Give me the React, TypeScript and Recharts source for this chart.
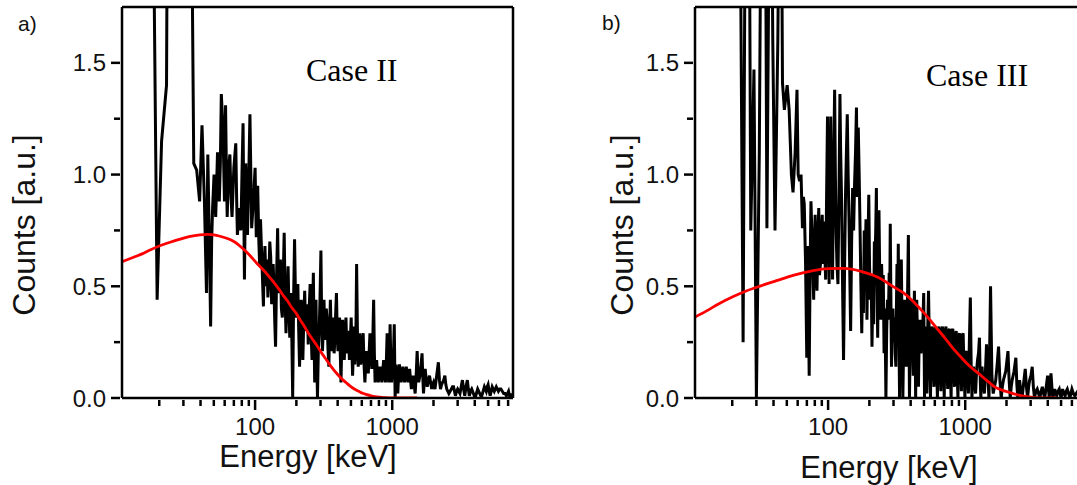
import { LineChart, Line, XAxis, YAxis, ReferenceLine } from 'recharts';

// energy [keV], counts [a.u.]
const spectrumA: [number, number][] = [
  [17.6, 3.0], [19.3, 0.44], [20.8, 1.15], [22.6, 1.4], [23.2, 3.0], [33.6, 3.0],
  [35.7, 1.05], [37.5, 1.02], [39.4, 0.88], [41.0, 1.22], [42.7, 0.88], [44.2, 0.47],
  [45.2, 1.09], [46.3, 0.73], [47.4, 0.32], [48.2, 0.7], [49.0, 0.85], [50.2, 1.0], [51.6, 0.81],
  [52.4, 0.95], [53.2, 1.1], [54.8, 0.88], [55.8, 1.05], [56.7, 1.36], [58.3, 1.21], [59.8, 0.88], [60.9, 1.31],
  [61.8, 1.0], [62.6, 0.81], [64.0, 1.03], [65.5, 1.09], [66.7, 0.9], [67.9, 0.81], [70.0, 1.03], [72.3, 1.14],
  [73.3, 0.9], [74.3, 0.73], [76.6, 0.85], [78.8, 0.75], [80.2, 1.0], [81.7, 1.23], [83.6, 0.53], [85.5, 1.05],
  [88.0, 0.73], [90.0, 1.0], [91.7, 1.27], [94.4, 0.76], [97.1, 0.88], [100, 1.03], [102, 0.72],
  [103, 0.81], [104.5, 0.95], [105, 0.88], [106.5, 0.7], [108, 0.59], [109.5, 0.8], [111, 0.69],
  [113, 0.55], [115, 0.41], [116.5, 0.6], [118, 0.68], [120, 0.5], [122, 0.62], [124, 0.45],
  [126, 0.54], [128, 0.7], [130, 0.63], [132, 0.42], [134, 0.47], [135.5, 0.6], [137, 0.51],
  [139, 0.35], [141, 0.23], [143.5, 0.55], [146, 0.76], [148, 0.5], [150, 0.47], [151.5, 0.58],
  [153, 0.62], [155.5, 0.4], [158, 0.36], [160.5, 0.55], [163, 0.74], [165.5, 0.45], [168, 0.29],
  [171, 0.45], [174, 0.59], [176.5, 0.4], [179, 0.27], [181, 0.38], [183, 0.47], [185.5, 0.25],
  [188, 0.0], [191, 0.45], [194, 0.71], [196.5, 0.5], [199, 0.36], [202, 0.42], [205, 0.51],
  [208, 0.3], [211, 0.14], [214, 0.35], [217, 0.44], [220, 0.3], [223, 0.17], [226.5, 0.35],
  [230, 0.48], [233.5, 0.3], [237, 0.36], [240.5, 0.42], [244, 0.24], [248, 0.4], [252, 0.51],
  [256, 0.3], [260, 0.17], [263, 0.4], [266, 0.56], [269, 0.3], [272, 0.07], [275, 0.3],
  [278, 0.44], [281.5, 0.2], [285, 0.0], [289, 0.2], [293, 0.29], [297.5, 0.45], [302, 0.66],
  [306, 0.35], [310, 0.21], [314, 0.3], [318, 0.44], [322, 0.3], [326, 0.26], [330.5, 0.4],
  [335, 0.35], [340, 0.22], [345, 0.14], [349.5, 0.3], [354, 0.44], [358.5, 0.3], [363, 0.21],
  [367.5, 0.3], [372, 0.36], [377, 0.2], [382, 0.26], [387, 0.38], [392, 0.47], [397, 0.3],
  [402, 0.21], [407.5, 0.3], [413, 0.36], [418, 0.2], [423, 0.07], [429, 0.25], [435, 0.35],
  [441, 0.25], [447, 0.17], [453.5, 0.28], [460, 0.36], [466.5, 0.2], [473, 0.29], [480, 0.3],
  [487, 0.17], [494.5, 0.25], [502, 0.36], [508, 0.22], [514, 0.1], [520.5, 0.2], [527, 0.32],
  [533.5, 0.15], [540, 0.21], [545, 0.35], [550, 0.6], [557.5, 0.3], [565, 0.14], [572.5, 0.2],
  [580, 0.29], [588.5, 0.15], [597, 0.17], [605.5, 0.25], [614, 0.29], [623, 0.15], [632, 0.07],
  [641, 0.15], [650, 0.21], [659.5, 0.15], [669, 0.11], [678.5, 0.2], [688, 0.29], [699, 0.2],
  [710, 0.13], [721, 0.25], [732, 0.44], [741, 0.2], [750, 0.07], [760, 0.12], [770, 0.17],
  [781, 0.1], [792, 0.07], [803.5, 0.12], [815, 0.14], [827.5, 0.1], [840, 0.07], [853, 0.12],
  [866, 0.17], [879, 0.1], [892, 0.07], [905, 0.15], [918, 0.29], [930, 0.15], [942, 0.07],
  [953.5, 0.15], [965, 0.33], [977.5, 0.15], [990, 0.07], [1001.5, 0.12], [1013, 0.17],
  [1024, 0.22], [1035, 0.33], [1050, 0.0], [1067, 0.15], [1083, 0.08], [1098, 0.02], [1113, 0.1],
  [1129, 0.15], [1145, 0.1], [1160, 0.07], [1178, 0.1], [1195, 0.14], [1212, 0.1], [1230, 0.07],
  [1248, 0.1], [1266, 0.14], [1285, 0.1], [1303, 0.07], [1322, 0.1], [1340, 0.13], [1360, 0.08],
  [1380, 0.04], [1400, 0.08], [1420, 0.1], [1445, 0.06], [1470, 0.02], [1495, 0.1], [1520, 0.21],
  [1540, 0.12], [1560, 0.07], [1580, 0.09], [1600, 0.11], [1625, 0.15], [1650, 0.2], [1670, 0.1],
  [1691, 0.02], [1715, 0.08], [1740, 0.13], [1770, 0.08], [1800, 0.05], [1835, 0.08], [1870, 0.1],
  [1905, 0.07], [1940, 0.04], [1970, 0.06], [2000, 0.07], [2050, 0.04], [2110, 0.1], [2170, 0.16],
  [2210, 0.08], [2250, 0.04], [2290, 0.06], [2330, 0.07], [2375, 0.08], [2420, 0.1], [2460, 0.06],
  [2500, 0.04], [2545, 0.03], [2590, 0.02], [2645, 0.03], [2700, 0.04], [2750, 0.05], [2800, 0.05],
  [2845, 0.03], [2890, 0.01], [2945, 0.03], [3000, 0.04], [3060, 0.03], [3120, 0.02], [3185, 0.05],
  [3250, 0.08], [3315, 0.04], [3380, 0.01], [3455, 0.05], [3530, 0.08], [3590, 0.04], [3650, 0.01],
  [3725, 0.03], [3800, 0.04], [3910, 0.02], [4020, 0.0], [4110, 0.02], [4200, 0.04], [4275, 0.03],
  [4350, 0.02], [4425, 0.01], [4500, 0.01], [4600, 0.03], [4700, 0.05], [4775, 0.04], [4850, 0.03],
  [4925, 0.05], [5000, 0.06], [5090, 0.03], [5180, 0.01], [5270, 0.03], [5360, 0.05], [5455, 0.04],
  [5550, 0.03], [5645, 0.04], [5740, 0.05], [5845, 0.04], [5950, 0.03], [6075, 0.04], [6200, 0.04],
  [6350, 0.03], [6500, 0.02], [6650, 0.02], [6800, 0.01], [6925, 0.02], [7050, 0.03], [7160, 0.01],
  [7270, 0.0], [7380, 0.01], [7500, 0.02],
];

const fitA: [number, number][] = [
  [10.7, 0.61], [13, 0.63], [15, 0.645], [17.5, 0.665], [20, 0.68], [24, 0.697],
  [28, 0.71], [33, 0.722], [39.7, 0.73], [45, 0.732], [50, 0.73], [55.5, 0.724], [62, 0.715],
  [69, 0.703], [75, 0.688], [81, 0.67], [87, 0.652], [92, 0.637], [99, 0.615], [106, 0.595],
  [114, 0.575], [122, 0.555], [131, 0.532], [140, 0.51], [150, 0.485], [160, 0.46],
  [172, 0.435], [185, 0.405], [199, 0.38], [213, 0.35], [229, 0.32], [245, 0.29], [263, 0.262],
  [282, 0.235], [303, 0.205], [325, 0.178], [348, 0.152], [372, 0.128], [400, 0.105],
  [430, 0.085], [462, 0.068], [494, 0.053], [530, 0.04], [570, 0.03], [610, 0.021],
  [654, 0.015], [700, 0.01], [750, 0.006], [800, 0.004], [860, 0.002], [930, 0.001],
  [1000, 0.0], [1200, 0.0], [1520, 0.0],
];

const spectrumB: [number, number][] = [
  [22.4, 3.0], [24.0, 0.25], [25.2, 3.0], [26.3, 3.0], [27.3, 0.75], [28.8, 1.47],
  [30.0, 0.0], [31.5, 1.1], [33.0, 3.0], [34.5, 3.0], [35.8, 0.76], [38.0, 3.0],
  [39.5, 1.6], [41.0, 0.75], [43.0, 1.6], [45.0, 3.0], [46.5, 1.41], [48.0, 1.29],
  [50.3, 1.4], [52.0, 1.29], [54.0, 1.0], [55.5, 0.92], [57.5, 1.1], [59.3, 1.38], [60.5, 1.0],
  [62.0, 0.97], [63.5, 1.0], [65.0, 0.76], [66.0, 0.9], [67.0, 0.87], [68.5, 0.6], [69.9, 0.18],
  [71.0, 0.68], [72.8, 0.1], [74.0, 0.6], [75.0, 0.88], [76.5, 0.7], [78.5, 0.44], [79.5, 0.7],
  [80.5, 0.82], [81.5, 0.6], [83.0, 0.48], [84.0, 0.7], [85.5, 0.85], [86.5, 0.55], [88.0, 0.6],
  [89.5, 0.75], [90.6, 0.82], [92.0, 0.6], [93.0, 0.79], [94.5, 0.65], [96.0, 0.53], [97.5, 0.9],
  [99.0, 1.26], [100.5, 0.8], [101.7, 0.51], [103.0, 0.9], [104.5, 1.26], [106.0, 0.8],
  [107.8, 0.53], [109.5, 1.0], [111.6, 1.38], [113.0, 1.0], [114.5, 0.74], [116.0, 0.6],
  [118.0, 0.51], [120.0, 0.9], [122.0, 1.36], [123.5, 1.1], [125.5, 0.88], [127.5, 0.5],
  [129.6, 0.17], [132.0, 0.6], [134.0, 0.91], [136.0, 1.1], [138.0, 1.27], [140.0, 1.0],
  [142.0, 0.81], [144.0, 0.55], [146.0, 0.3], [148.5, 0.7], [151.0, 0.94], [153.5, 0.75],
  [156.0, 0.96], [158.5, 1.1], [161.0, 1.3], [163.5, 0.9], [166.0, 1.21], [168.5, 1.0],
  [171.0, 0.76], [173.5, 0.5], [176.0, 0.29], [178.5, 0.55], [181.0, 0.38], [183.5, 0.75],
  [186.0, 0.59], [189.0, 0.8], [192.0, 0.35], [195.0, 0.65], [198.0, 0.91], [200.5, 0.6],
  [203.0, 0.44], [206.0, 0.55], [209.0, 0.23], [212.0, 0.5], [215.0, 0.33], [217.5, 0.7],
  [220.0, 0.62], [222.5, 0.75], [225.0, 0.94], [227.5, 0.5], [230.0, 0.27], [232.5, 0.6],
  [235.0, 0.84], [238.5, 0.5], [242.0, 0.35], [245.5, 0.6], [249.0, 0.44], [252.5, 0.55],
  [256.0, 0.2], [260.0, 0.4], [264.0, 0.0], [267.5, 0.3], [271.0, 0.44], [275.0, 0.35],
  [279.0, 0.56], [281.5, 0.4], [284.0, 0.78], [287.0, 0.45], [290.0, 0.14], [293.5, 0.35],
  [297.0, 0.4], [301.0, 0.25], [305.0, 0.36], [308.5, 0.2], [312.0, 0.14], [315.0, 0.4],
  [318.0, 0.6], [321.5, 0.35], [325.0, 0.69], [328.5, 0.3], [332.0, 0.0], [337.0, 0.35],
  [342.0, 0.62], [346.5, 0.3], [351.0, 0.0], [356.5, 0.3], [362.0, 0.44], [367.0, 0.3],
  [372.0, 0.14], [378.5, 0.4], [385.0, 0.73], [388.5, 0.4], [392.0, 0.0], [398.5, 0.3],
  [405.0, 0.44], [411.5, 0.3], [418.0, 0.1], [422.0, 0.3], [426.0, 0.48], [430.5, 0.3],
  [435.0, 0.0], [439.0, 0.3], [443.0, 0.44], [449.5, 0.25], [456.0, 0.05], [462.5, 0.3],
  [469.0, 0.35], [476.0, 0.2], [483.0, 0.29], [490.5, 0.32], [498.0, 0.47], [505.0, 0.0],
  [511.0, 0.32], [518.0, 0.15], [525.0, 0.02], [532.5, 0.3], [540.0, 0.48], [549.0, 0.2],
  [558.0, 0.0], [566.5, 0.3], [575.0, 0.32], [583.5, 0.15], [592.0, 0.05], [600.5, 0.3],
  [609.0, 0.32], [618.0, 0.15], [627.0, 0.0], [636.0, 0.3], [645.0, 0.32], [654.5, 0.15],
  [664.0, 0.03], [673.5, 0.3], [683.0, 0.32], [693.0, 0.15], [703.0, 0.0], [713.5, 0.3],
  [724.0, 0.32], [734.5, 0.15], [745.0, 0.04], [756.0, 0.3], [767.0, 0.31], [778.0, 0.12],
  [789.0, 0.0], [800.5, 0.3], [812.0, 0.31], [823.5, 0.15], [835.0, 0.05], [847.5, 0.28],
  [860.0, 0.3], [872.5, 0.12], [885.0, 0.0], [897.5, 0.28], [910.0, 0.29], [924.0, 0.15],
  [938.0, 0.03], [952.0, 0.28], [966.0, 0.29], [980.5, 0.12], [995.0, 0.0], [1010.0, 0.2],
  [1025.0, 0.21], [1040.0, 0.1], [1055.0, 0.02], [1072.0, 0.25], [1090.0, 0.45], [1105.0, 0.15],
  [1120.0, 0.0], [1135.0, 0.1], [1150.0, 0.14], [1170.0, 0.08], [1190.0, 0.02], [1210.0, 0.12],
  [1230.0, 0.17], [1250.0, 0.2], [1270.0, 0.27], [1285.0, 0.1], [1300.0, 0.0], [1313.0, 0.1],
  [1326.0, 0.14], [1353.0, 0.06], [1380.0, 0.02], [1405.0, 0.12], [1430.0, 0.24], [1460.0, 0.1],
  [1490.0, 0.0], [1510.0, 0.25], [1530.0, 0.5], [1565.0, 0.1], [1600.0, 0.02], [1635.0, 0.05],
  [1670.0, 0.08], [1710.0, 0.15], [1750.0, 0.23], [1790.0, 0.08], [1830.0, 0.0], [1865.0, 0.05],
  [1900.0, 0.08], [1975.0, 0.12], [2050.0, 0.21], [2090.0, 0.08], [2130.0, 0.0], [2165.0, 0.05],
  [2200.0, 0.08], [2270.0, 0.12], [2340.0, 0.18], [2380.0, 0.06], [2420.0, 0.0], [2455.0, 0.05],
  [2490.0, 0.08], [2545.0, 0.03], [2600.0, 0.0], [2670.0, 0.07], [2740.0, 0.13], [2795.0, 0.05],
  [2850.0, 0.0], [2900.0, 0.05], [2950.0, 0.08], [3015.0, 0.1], [3080.0, 0.14], [3140.0, 0.05],
  [3200.0, 0.0], [3275.0, 0.03], [3350.0, 0.04], [3425.0, 0.02], [3500.0, 0.0], [3575.0, 0.03],
  [3650.0, 0.05], [3725.0, 0.02], [3800.0, 0.0], [3895.0, 0.05], [3990.0, 0.1], [4045.0, 0.04],
  [4100.0, 0.0], [4160.0, 0.06], [4220.0, 0.11], [4285.0, 0.05], [4350.0, 0.0], [4425.0, 0.02],
  [4500.0, 0.04], [4575.0, 0.02], [4650.0, 0.01], [4750.0, 0.03], [4850.0, 0.04], [4925.0, 0.02],
  [5000.0, 0.0], [5065.0, 0.02], [5130.0, 0.04], [5240.0, 0.02], [5350.0, 0.01], [5450.0, 0.03],
  [5550.0, 0.04], [5675.0, 0.02], [5800.0, 0.0], [5900.0, 0.02], [6000.0, 0.04], [6150.0, 0.02],
  [6300.0, 0.01], [6450.0, 0.02], [6600.0, 0.03], [6800.0, 0.02], [7000.0, 0.01], [7500.0, 0.02],
];

const fitB: [number, number][] = [
  [10.7, 0.362], [13, 0.39], [16, 0.422], [20, 0.452], [25, 0.478], [32.3, 0.502],
  [42, 0.525], [56.4, 0.55], [75, 0.568], [99.5, 0.579], [131, 0.58], [174, 0.567],
  [231, 0.54], [305, 0.495], [355, 0.47], [405, 0.44], [468, 0.4], [536, 0.36], [615, 0.315],
  [707, 0.27], [815, 0.222], [940, 0.18], [1080, 0.142], [1250, 0.11], [1440, 0.078],
  [1640, 0.05], [1900, 0.033], [2180, 0.022], [2500, 0.012], [2880, 0.005], [3200, 0.002],
  [3600, 0.0], [4680, 0.0],
];

const xTicks = [20, 30, 40, 50, 60, 70, 80, 90, 100, 200, 300, 400, 500, 600, 700, 800, 900, 1000, 2000, 3000, 4000, 5000, 6000, 7000];
const xLabels = [100, 1000];
const yTicks = [0, 0.25, 0.5, 0.75, 1, 1.25, 1.5];

const X_MIN = 10.7;
const X_MAX = 7600;
const Y_MAX = 1.75;
const SANS = '"Liberation Sans", Arial, sans-serif';
const SERIF = '"Liberation Serif", "Times New Roman", serif';

const toRows = (pts: [number, number][]) => pts.map(([e, c]) => ({ e, c }));

const XTick = ({ x, y, payload }: any) => {
  const major = xLabels.includes(payload.value);
  return (
    <g>
      <line x1={x} x2={x} y1={y} y2={y + (major ? 10 : 6)} stroke="#000" strokeWidth={2.5} />
      {major && (
        <text x={x} y={y + 35} textAnchor="middle" fontSize={24} fontFamily={SANS} fill="#111">
          {payload.value}
        </text>
      )}
    </g>
  );
};

const YTick = ({ x, y, payload }: any) => {
  const major = Number.isInteger(payload.value * 2);
  return (
    <g>
      <line x1={x - (major ? 9 : 6)} x2={x} y1={y} y2={y} stroke="#000" strokeWidth={2.5} />
      {major && (
        <text x={x - 14} y={y + 8.5} textAnchor="end" fontSize={24} fontFamily={SANS} fill="#111">
          {payload.value.toFixed(1)}
        </text>
      )}
    </g>
  );
};

const Panel = ({ spectrum, fit }: { spectrum: [number, number][]; fit: [number, number][] }) => (
  <LineChart width={540} height={485} margin={{ top: 7, right: 27, bottom: 0, left: 0 }}>
    <XAxis
      type="number"
      dataKey="e"
      scale="log"
      domain={[X_MIN, X_MAX]}
      allowDataOverflow
      ticks={xTicks}
      interval={0}
      height={87}
      tickSize={0}
      tickLine={false}
      tick={<XTick />}
      axisLine={{ stroke: '#000', strokeWidth: 2.5 }}
    />
    <YAxis
      type="number"
      dataKey="c"
      domain={[0, Y_MAX]}
      allowDataOverflow
      ticks={yTicks}
      interval={0}
      width={122}
      tickSize={0}
      tickLine={false}
      tick={<YTick />}
      axisLine={{ stroke: '#000', strokeWidth: 2.5 }}
    />
    <Line
      data={toRows(spectrum)}
      dataKey="c"
      type="linear"
      stroke="#000"
      strokeWidth={3}
      dot={false}
      isAnimationActive={false}
    />
    <Line
      data={toRows(fit)}
      dataKey="c"
      type="monotone"
      stroke="#f00"
      strokeWidth={2.8}
      dot={false}
      isAnimationActive={false}
    />
    <ReferenceLine y={Y_MAX} stroke="#000" strokeWidth={2.5} />
    <ReferenceLine x={X_MAX} stroke="#000" strokeWidth={2.5} />
  </LineChart>
);

export default function App() {
  return (
    <div style={{ position: 'fixed', left: 0, top: 0, width: 1077, height: 485, overflow: 'hidden', background: '#fff' }}>
      <div style={{ position: 'absolute', left: 0, top: 0 }}>
        <Panel spectrum={spectrumA} fit={fitA} />
      </div>
      <div style={{ position: 'absolute', left: 573, top: 0 }}>
        <Panel spectrum={spectrumB} fit={fitB} />
      </div>
      <svg width={1077} height={485} style={{ position: 'absolute', left: 0, top: 0, pointerEvents: 'none' }}>
        <text x={18} y={31} fontSize={21} fontFamily={SANS} fill="#111">a)</text>
        <text x={602} y={30} fontSize={21} fontFamily={SANS} fill="#111">b)</text>
        <text x={306} y={81} fontSize={32} fontFamily={SERIF} fill="#000">Case II</text>
        <text x={926} y={86} fontSize={32} fontFamily={SERIF} fill="#000">Case III</text>
        <text x={35} y={225} transform="rotate(-90 35 225)" textAnchor="middle" fontSize={32} fontFamily={SANS} fill="#111">
          Counts [a.u.]
        </text>
        <text x={633} y={225} transform="rotate(-90 633 225)" textAnchor="middle" fontSize={32} fontFamily={SANS} fill="#111">
          Counts [a.u.]
        </text>
        <text x={308} y={467} textAnchor="middle" fontSize={31} fontFamily={SANS} fill="#111">Energy [keV]</text>
        <text x={889} y={478} textAnchor="middle" fontSize={31} fontFamily={SANS} fill="#111">Energy [keV]</text>
      </svg>
    </div>
  );
}
